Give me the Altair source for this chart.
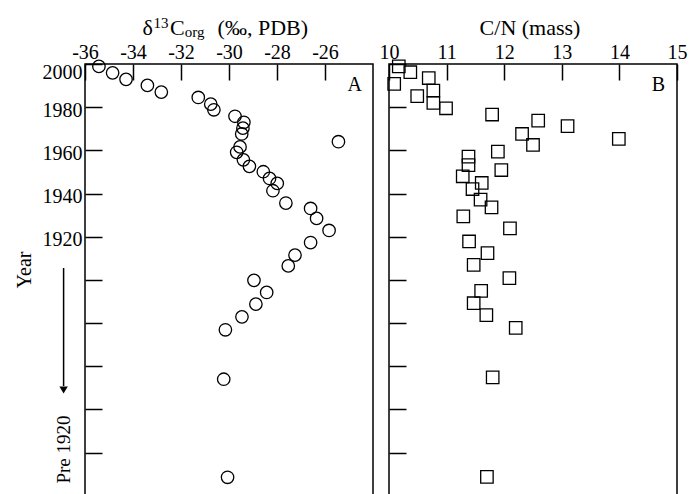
import altair as alt
import pandas as pd

# ---- data ----
year_a = [1998.9, 1995.9, 1992.9, 1990.1, 1987.0, 1984.5, 1981.4, 1978.8, 1975.8, 1973.0,
          1970.3, 1967.6, 1964.0, 1961.6, 1959.1, 1955.6, 1952.6, 1950.1, 1947.0, 1944.7,
          1941.3, 1935.6, 1933.1, 1928.5, 1922.9, 1917.3, 1911.5, 1906.5, 1899.8, 1894.2,
          1888.8, 1882.9, 1876.9, 1854.0, 1808.6]
d13c = [-35.42, -34.85, -34.29, -33.40, -32.82, -31.28, -30.76, -30.63, -29.75, -29.38,
        -29.42, -29.47, -25.44, -29.54, -29.68, -29.40, -29.15, -28.57, -28.31, -27.99,
        -28.17, -27.63, -26.60, -26.35, -25.83, -26.60, -27.25, -27.53, -28.96, -28.43,
        -28.88, -29.46, -30.15, -30.22, -30.06]

year_b = [1998.9, 1996.2, 1993.5, 1990.8, 1987.7, 1985.1, 1982.0, 1979.5, 1976.6, 1973.8,
          1971.2, 1967.6, 1965.3, 1962.5, 1959.4, 1957.1, 1953.2, 1950.9, 1948.0, 1944.9,
          1942.1, 1937.2, 1933.6, 1929.4, 1923.9, 1917.8, 1912.4, 1907.0, 1900.8, 1894.9,
          1889.2, 1883.7, 1877.8, 1854.9, 1808.8]
cn = [10.17, 10.37, 10.69, 10.09, 10.77, 10.49, 10.77, 10.99, 11.79, 12.59,
      13.10, 12.31, 13.99, 12.50, 11.89, 11.38, 11.38, 11.95, 11.28, 11.61,
      11.45, 11.59, 11.78, 11.29, 12.10, 11.39, 11.71, 11.47, 12.09, 11.60,
      11.47, 11.69, 12.20, 11.80, 11.70]

year_ticks = [2000, 1980, 1960, 1940, 1920, 1900, 1880, 1860, 1840, 1820]
d13c_ticks = [-36, -34, -32, -30, -28, -26]
cn_ticks = [10, 11, 12, 13, 14, 15]

FONT = "Liberation Serif"
W, H = 288, 434
yscale = alt.Scale(domain=[1799, 2000], nice=False, zero=False)

df_a = pd.DataFrame({"year": year_a, "d13c": d13c})
df_b = pd.DataFrame({"year": year_b, "cn": cn})


def x_axis(values):
    return alt.Axis(orient="top", values=values, offset=-16, tickSize=16, domain=False,
                    grid=False, labelPadding=2, title=None, labelFont=FONT,
                    labelFontSize=20, labelColor="black", tickColor="black",
                    tickWidth=1.5, labelFlush=False, labelOverlap=False,
                    labelExpr="toString(datum.value)")


def y_axis(labels):
    kw = dict(orient="left", values=year_ticks, offset=-17, tickSize=17, domain=False,
              grid=False, title=None, tickColor="black", tickWidth=1.5,
              labelFlush=False, labelOverlap=False)
    if labels:
        kw.update(labelPadding=3, labelFont=FONT, labelFontSize=20, labelColor="black",
                  labelOffset={"condition": {"test": "datum.value == 2000", "value": 8},
                               "value": 3},
                  labelExpr="datum.value >= 1920 ? toString(datum.value) : ''")
    else:
        kw.update(labels=False)
    return alt.Axis(**kw)


def txt(text, x, y, size, align="left", baseline="alphabetic", angle=0):
    return alt.Chart(pd.DataFrame({"t": [text]})).mark_text(
        font=FONT, fontSize=size, color="black", align=align, baseline=baseline,
        angle=angle
    ).encode(text="t:N", x=alt.value(x), y=alt.value(y))


pts_a = alt.Chart(df_a).mark_point(
    shape="circle", filled=False, color="black", size=155, strokeWidth=1.3, opacity=1
).encode(
    x=alt.X("d13c:Q", scale=alt.Scale(domain=[-36, -24], nice=False, zero=False),
            axis=x_axis(d13c_ticks)),
    y=alt.Y("year:Q", scale=yscale, axis=y_axis(True)),
)

pts_b = alt.Chart(df_b).mark_point(
    shape="square", filled=False, color="black", size=155, strokeWidth=1.3, opacity=1
).encode(
    x=alt.X("cn:Q", scale=alt.Scale(domain=[10, 15], nice=False, zero=False),
            axis=x_axis(cn_ticks)),
    y=alt.Y("year:Q", scale=yscale, axis=y_axis(False)),
)

one = pd.DataFrame({"k": [0]})
arrow = alt.Chart(one).mark_rule(color="black", strokeWidth=1.5).encode(
    x=alt.value(-21.4), y=alt.value(204), y2=alt.value(322))
head = alt.Chart(one).mark_point(shape="triangle-down", filled=True, color="black",
                                 size=70, opacity=1).encode(
    x=alt.value(-21.4), y=alt.value(326))

panel_a = alt.layer(
    pts_a,
    txt("δ", 57.6, -29.4, 22),
    txt("13", 68.6, -36, 15),
    txt("C", 85.0, -29.4, 22),
    txt("org", 99.8, -26.7, 15),
    txt("(‰, PDB)", 132.6, -29.4, 22),
    txt("A", 269.6, 27.3, 20, align="center"),
    txt("Year", -60, 206, 20, align="center", baseline="middle", angle=270),
    txt("Pre 1920", -21.4, 385.5, 19, align="center", baseline="middle", angle=270),
    arrow, head,
).properties(width=W, height=H)

panel_b = alt.layer(
    pts_b,
    txt("C/N (mass)", 141, -29.4, 22, align="center"),
    txt("B", 269.5, 26.5, 20, align="center"),
).properties(width=W, height=H)

chart = alt.hconcat(panel_a, panel_b, spacing=16, bounds="flush").properties(
    padding={"left": 14, "top": 15, "right": 5, "bottom": 0},
    background="white",
).configure_view(stroke="black", strokeWidth=1.5)

chart.save("out.html", embed_options={"renderer": "svg", "actions": False})
